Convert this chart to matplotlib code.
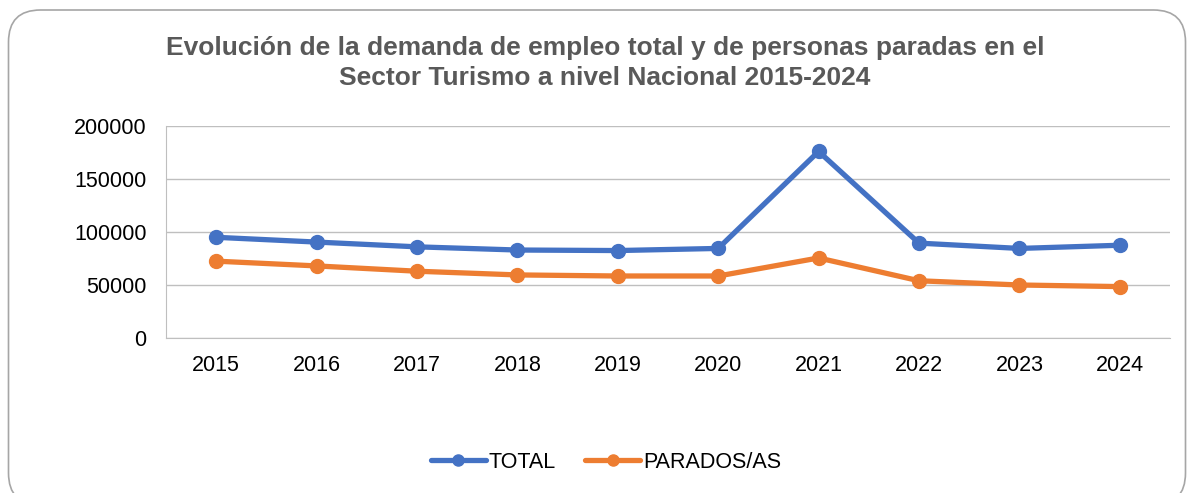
import matplotlib.pyplot as plt
import numpy as np
from matplotlib.patches import FancyBboxPatch

plt.rcParams['font.family'] = ['Liberation Sans', 'DejaVu Sans']

years = ['2015', '2016', '2017', '2018', '2019', '2020', '2021', '2022', '2023', '2024']
total = [95000, 90500, 86000, 83000, 82500, 84500, 176000, 89500, 84500, 87500]
parados = [72500, 68000, 63000, 59500, 58500, 58500, 75500, 54000, 50000, 48500]

title = ('Evolución de la demanda de empleo total y de personas paradas en el\n'
         'Sector Turismo a nivel Nacional 2015-2024')

fig = plt.figure(figsize=(11.89, 4.93), dpi=100)

# rounded chart border (in inches)
border = FancyBboxPatch((0.085, -0.12), 11.77, 4.95,
                        boxstyle='round,pad=0,rounding_size=0.32',
                        transform=fig.dpi_scale_trans, fill=False,
                        edgecolor='#a6a6a6', linewidth=1.2)
fig.patches.append(border)

ax = fig.add_axes([166 / 1189, 1 - 338 / 493, (1170 - 166) / 1189, (338 - 126) / 493])

x = np.arange(len(years))
ax.plot(x, total, color='#4472c4', lw=3.8, marker='o', ms=10,
        solid_capstyle='round', label='TOTAL', zorder=3)
ax.plot(x, parados, color='#ed7d31', lw=3.8, marker='o', ms=10,
        solid_capstyle='round', label='PARADOS/AS', zorder=3)

ax.set_xlim(-0.5, len(years) - 0.5)
ax.set_ylim(0, 200000)
ax.set_yticks(np.arange(0, 200001, 50000))
ax.set_yticklabels(['%d' % v for v in np.arange(0, 200001, 50000)])
ax.set_xticks(x)
ax.set_xticklabels(years)
ax.tick_params(length=0, labelsize=15.5, colors='black')
ax.tick_params(axis='x', pad=12)
ax.tick_params(axis='y', pad=14)
ax.grid(axis='y', color='#bfbfbf', lw=1)
ax.set_axisbelow(True)
for s in ['top', 'right']:
    ax.spines[s].set_visible(False)
ax.spines['left'].set_color('#bfbfbf')
ax.spines['bottom'].set_color('#bfbfbf')

fig.text(605 / 1189, 1 - 63 / 493, title, ha='center', va='center',
         fontsize=19, fontweight='bold', color='#595959', linespacing=1.28)

fig.legend(loc='center', bbox_to_anchor=(606 / 1189, 1 - 462 / 493), ncol=2,
           frameon=False, fontsize=15.5, handlelength=2.55, handletextpad=0.15,
           columnspacing=1.35, markerscale=0.8)

fig.savefig('out.png', dpi=100)
